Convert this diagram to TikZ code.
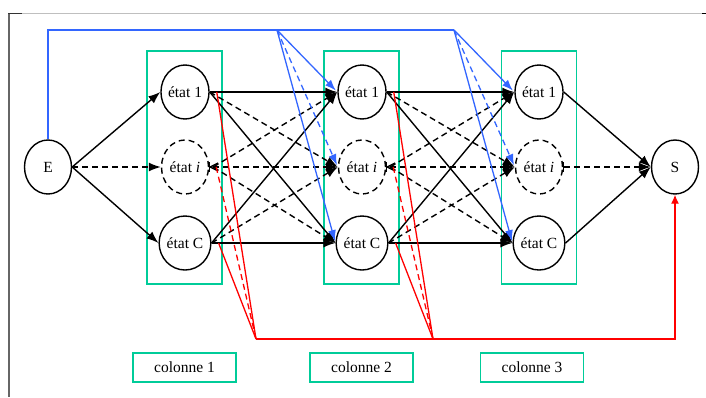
\documentclass[tikz,border=0pt]{standalone}
\usepackage{fontspec}
\setmainfont{Liberation Serif}
\usetikzlibrary{arrows.meta,shapes.geometric}
\definecolor{colgreen}{RGB}{0,204,153}
\definecolor{linkblue}{RGB}{51,102,255}
\definecolor{linkred}{RGB}{255,0,0}

\begin{document}
\begin{tikzpicture}[x=1pt,y=-1pt,
  txt/.style={font=\fontsize{15.5}{17}\selectfont},
  state/.style={txt, draw, ellipse, line width=1.4pt, minimum width=47pt,
    minimum height=54pt, inner sep=0pt},
  hidden/.style={state, dash pattern=on 6pt off 4pt},
  column/.style={draw=colgreen, line width=1.8pt, minimum width=75pt,
    minimum height=233pt},
  colname/.style={txt, draw=colgreen, line width=1.8pt, minimum width=103pt,
    minimum height=29pt},
  flow/.style={line width=1.4pt, -{Latex[length=12pt,width=9pt]}},
  maybe/.style={flow, dash pattern=on 6pt off 4pt},
  bline/.style={line width=1.3pt, linkblue},
  bflow/.style={bline, -{Latex[length=11pt,width=8pt]}, shorten >=2pt},
  bmaybe/.style={bflow, dash pattern=on 6pt off 4pt},
  rline/.style={line width=1.3pt, linkred},
  rmaybe/.style={rline, dash pattern=on 6pt off 4pt},
  tick/.style={line width=1.4pt}
]
\useasboundingbox (0,0) rectangle (706,397);

% page frame
\draw[black!25, line width=0.8pt] (8,13) -- (702,13);
\draw[black!60, line width=1.8pt] (9,13) -- (9,397);
\draw[black!80, line width=1pt] (8,13) -- (22,13);
\draw[black, line width=1pt] (702,13) -- (706,13);

% columns
\node[column] (col1) at (184.5,167.5) {};
\node[column] (col2) at (361.5,167.5) {};
\node[column] (col3) at (539,167.5) {};
\node[colname] (n1) at (184.5,367.5) {colonne 1};
\node[colname] (n2) at (361.5,367.5) {colonne 2};
\node[colname] (n3) at (532,367.5) {colonne 3};

% states
\node[state] (E) at (48,167) {E};
\node[state] (S) at (675,167) {S};
\foreach \c/\x in {1/185, 2/362, 3/539} {
  \node[state]  (c\c a) at (\x,92)  {état 1};
  \node[hidden] (c\c i) at (\x,167) {état \textit{i}};
  \node[state]  (c\c c) at (\x,243) {état C};
}

% entry transitions
\draw[flow]  (E.east) -- (c1a.west);
\draw[maybe] (E.east) -- (c1i.west);
\draw[flow]  (E.east) -- (c1c.west);

% transitions between consecutive columns
\foreach \p/\q in {1/2, 2/3} {
  \draw[flow]  (c\p a.east) -- (c\q a.west);
  \draw[maybe] (c\p a.east) -- (c\q i.west);
  \draw[flow]  (c\p a.east) -- (c\q c.west);
  \draw[maybe] ([xshift=4pt]c\p i.east) -- (c\q a.west);
  \draw[maybe] ([xshift=4pt]c\p i.east) -- (c\q i.west);
  \draw[maybe] ([xshift=4pt]c\p i.east) -- (c\q c.west);
  \draw[flow]  (c\p c.east) -- (c\q a.west);
  \draw[maybe] (c\p c.east) -- (c\q i.west);
  \draw[flow]  (c\p c.east) -- (c\q c.west);
  % bar and back tip at the hidden state
  \draw[tick] (c\p i.east) ++(0,-5) -- ++(0,10);
  \draw[tick] (c\p i.east) ++(9,-4) -- ++(-8,4) -- ++(8,4);
}

% exit transitions
\draw[flow]  (c3a.east) -- (S.west);
\draw[maybe] ([xshift=1pt]c3i.east) -- (S.west);
\draw[flow]  (c3c.east) -- (S.west);
\draw[tick] (c3i.east) ++(0,-5) -- ++(0,10);

% blue entry shortcuts
\coordinate (b2) at (277,30);
\coordinate (b3) at (454,30);
\draw[bline] (E.north) |- (b3);
\foreach \b/\q in {b2/2, b3/3} {
  \draw[bflow]  (\b) -- (c\q a.west);
  \draw[bmaybe] (\b) -- (c\q i.west);
  \draw[bflow]  (\b) -- (c\q c.west);
}

% red exit shortcuts
\coordinate (r1) at (256,339);
\coordinate (r2) at (433,339);
\foreach \r/\p in {r1/1, r2/2} {
  \draw[rline]  ([xshift=7pt]c\p a.east) -- (\r);
  \draw[rmaybe] ([xshift=7pt]c\p i.east) -- (\r);
  \draw[rline]  ([xshift=7pt]c\p c.east) -- (\r);
}
\draw[rline, -{Latex[length=9pt,width=8pt]}] (r1) -| (S.south);
\end{tikzpicture}
\end{document}
